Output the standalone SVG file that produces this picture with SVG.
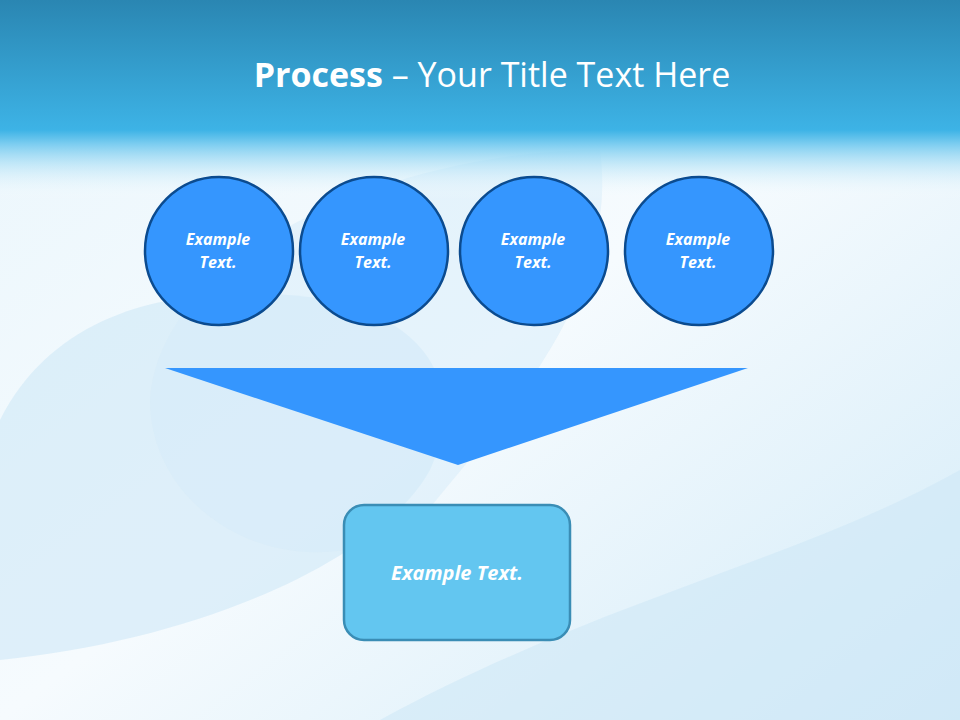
<svg xmlns="http://www.w3.org/2000/svg" width="960" height="720" viewBox="0 0 960 720">
<defs>
<linearGradient id="hdr" x1="0" y1="0" x2="0" y2="1">
<stop offset="0" stop-color="#2a86b2"/><stop offset="0.65" stop-color="#3db3e6"/><stop offset="0.72" stop-color="#7ccdf0"/><stop offset="1" stop-color="#ffffff" stop-opacity="0"/>
</linearGradient>
<linearGradient id="bg" x1="0" y1="0" x2="1" y2="1">
<stop offset="0" stop-color="#eaf6fc"/><stop offset="0.5" stop-color="#f6fbfe"/><stop offset="1" stop-color="#d3ebf8"/>
</linearGradient>
<style>
.c{fill:#3596fe;stroke:#0b4b8f;stroke-width:2.5}
.t{font-family:"Open Sans",sans-serif;font-style:italic;font-weight:bold;fill:#fff;text-anchor:middle}
</style>
</defs>
<rect width="960" height="720" fill="url(#bg)"/>
<path d="M0 420 C60 300 200 280 330 300 C420 320 470 380 430 470 C380 560 200 640 0 660 Z" fill="#cfe8f7" opacity="0.6"/>
<path d="M150 400 C160 250 400 150 600 150 C620 300 500 420 420 520 C300 600 150 520 150 400 Z" fill="#d6ecf9" opacity="0.5"/>
<path d="M380 720 C600 600 800 560 960 470 L960 720 Z" fill="#cfe8f7" opacity="0.6"/>
<rect width="960" height="200" fill="url(#hdr)"/>
<text x="492" y="87" font-family="Open Sans,sans-serif" font-size="34" fill="#fff" text-anchor="middle"><tspan font-weight="bold">Process</tspan> – Your Title Text Here</text>
<g id="n1"><circle class="c" cx="219" cy="251" r="74"/><text class="t" font-size="16" x="218" y="245">Example</text><text class="t" font-size="16" x="218" y="268">Text.</text></g>
<g id="n2"><circle class="c" cx="374" cy="251" r="74"/><text class="t" font-size="16" x="373" y="245">Example</text><text class="t" font-size="16" x="373" y="268">Text.</text></g>
<g id="n3"><circle class="c" cx="534" cy="251" r="74"/><text class="t" font-size="16" x="533" y="245">Example</text><text class="t" font-size="16" x="533" y="268">Text.</text></g>
<g id="n4"><circle class="c" cx="699" cy="251" r="74"/><text class="t" font-size="16" x="698" y="245">Example</text><text class="t" font-size="16" x="698" y="268">Text.</text></g>
<g id="connectors"><polygon points="165,368 748,368 458,465" fill="#3596fe"/></g>
<g id="n5"><rect x="344" y="505" width="226" height="135" rx="20" fill="#63c6f0" stroke="#3a8db5" stroke-width="2.5"/><text class="t" font-size="20" x="457" y="580">Example Text.</text></g>
</svg>
